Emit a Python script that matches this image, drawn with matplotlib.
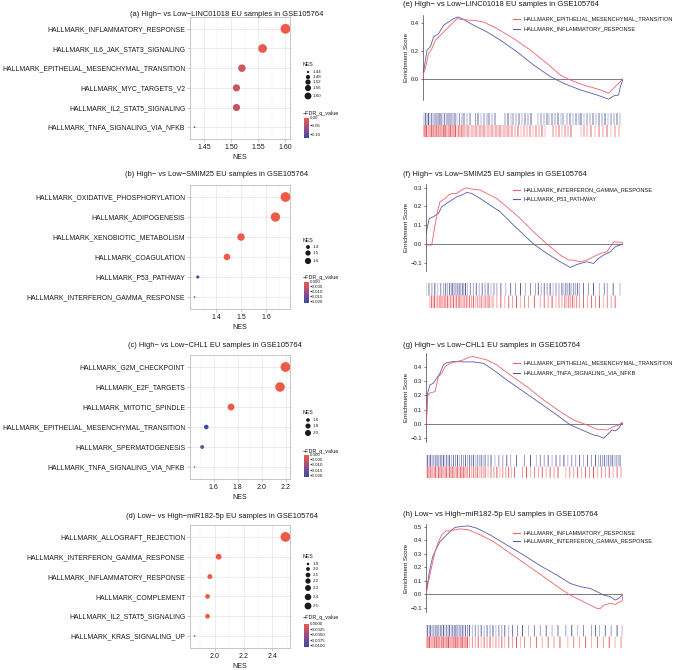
import numpy as np
import matplotlib
matplotlib.use('Agg')
import matplotlib.pyplot as plt
from matplotlib.colors import LinearSegmentedColormap
from matplotlib.ticker import AutoMinorLocator

plt.rcParams['font.family'] = ['Liberation Sans', 'DejaVu Sans']

W, H = 676, 670
fig = plt.figure(figsize=(W / 100, H / 100), dpi=100)
fig.patch.set_facecolor('white')

# %% dot plot data (a)-(d), terms from top to bottom
a_terms = ['HALLMARK_INFLAMMATORY_RESPONSE', 'HALLMARK_IL6_JAK_STAT3_SIGNALING',
           'HALLMARK_EPITHELIAL_MESENCHYMAL_TRANSITION', 'HALLMARK_MYC_TARGETS_V2',
           'HALLMARK_IL2_STAT5_SIGNALING', 'HALLMARK_TNFA_SIGNALING_VIA_NFKB']
a_nes = [1.600, 1.558, 1.520, 1.510, 1.510, 1.433]
a_fdr = [0.0, -0.003, -0.022, -0.026, -0.030, -0.120]
a_xticks = [1.45, 1.50, 1.55, 1.60]
a_xlabels = ['1.45', '1.50', '1.55', '1.60']
a_size_breaks = [1.44, 1.48, 1.52, 1.56, 1.60]
a_size_labels = ['1.44', '1.48', '1.52', '1.56', '1.60']
a_cbar_ticks = [0.0, -0.05, -0.10]
a_cbar_labels = ['0.00', '\u22120.05', '\u22120.10']

b_terms = ['HALLMARK_OXIDATIVE_PHOSPHORYLATION', 'HALLMARK_ADIPOGENESIS',
           'HALLMARK_XENOBIOTIC_METABOLISM', 'HALLMARK_COAGULATION',
           'HALLMARK_P53_PATHWAY', 'HALLMARK_INTERFERON_GAMMA_RESPONSE']
b_nes = [1.677, 1.637, 1.500, 1.444, 1.328, 1.315]
b_fdr = [0.0, 0.0, 0.0, 0.0, -0.021, -0.019]
b_xticks = [1.4, 1.5, 1.6]
b_xlabels = ['1.4', '1.5', '1.6']
b_size_breaks = [1.4, 1.5, 1.6]
b_size_labels = ['1.4', '1.5', '1.6']
b_cbar_ticks = [0.0, -0.005, -0.010, -0.015, -0.020]
b_cbar_labels = ['0.000', '\u22120.005', '\u22120.010', '\u22120.015', '\u22120.020']

c_terms = ['HALLMARK_G2M_CHECKPOINT', 'HALLMARK_E2F_TARGETS', 'HALLMARK_MITOTIC_SPINDLE',
           'HALLMARK_EPITHELIAL_MESENCHYMAL_TRANSITION', 'HALLMARK_SPERMATOGENESIS',
           'HALLMARK_TNFA_SIGNALING_VIA_NFKB']
c_nes = [2.195, 2.150, 1.745, 1.540, 1.506, 1.443]
c_fdr = [0.0, 0.0, 0.0, -0.021, -0.014, -0.008]
c_xticks = [1.6, 1.8, 2.0, 2.2]
c_xlabels = ['1.6', '1.8', '2.0', '2.2']
c_size_breaks = [1.6, 1.8, 2.0]
c_size_labels = ['1.6', '1.8', '2.0']
c_cbar_ticks = [0.0, -0.005, -0.010, -0.015, -0.020]
c_cbar_labels = ['0.000', '\u22120.005', '\u22120.010', '\u22120.015', '\u22120.020']

d_terms = ['HALLMARK_ALLOGRAFT_REJECTION', 'HALLMARK_INTERFERON_GAMMA_RESPONSE',
           'HALLMARK_INFLAMMATORY_RESPONSE', 'HALLMARK_COMPLEMENT',
           'HALLMARK_IL2_STAT5_SIGNALING', 'HALLMARK_KRAS_SIGNALING_UP']
d_nes = [2.490, 2.027, 1.966, 1.950, 1.950, 1.860]
d_fdr = [0.0, 0.0, 0.0, 0.0, 0.0, -0.0103]
d_xticks = [2.0, 2.2, 2.4]
d_xlabels = ['2.0', '2.2', '2.4']
d_size_breaks = [1.9, 2.0, 2.1, 2.2, 2.3, 2.4, 2.5]
d_size_labels = ['1.9', '2.0', '2.1', '2.2', '2.3', '2.4', '2.5']
d_cbar_ticks = [0.0, -0.0025, -0.0050, -0.0075, -0.0100]
d_cbar_labels = ['0.0000', '\u22120.0025', '\u22120.0050', '\u22120.0075', '\u22120.0100']

# %% GSEA running enrichment scores (rank in %, ES)
e_red_rank = [0, 0.3, 1.2, 2.8, 4.5, 6.2, 8.7, 11.2, 13.7, 16.2, 17.0, 19.5, 25.3, 30.3, 37.0,
              45.3, 53.7, 62.0, 68.7, 73.7, 80.3, 88.7, 92.8, 95.3, 97.8, 100]
e_red_es = [0, 0.04, 0.076, 0.183, 0.218, 0.277, 0.312, 0.348, 0.384, 0.419, 0.431, 0.424, 0.419,
            0.407, 0.36, 0.289, 0.206, 0.111, 0.028, -0.007, -0.043, -0.078, -0.102, -0.066,
            -0.031, 0]
e_blue_rank = [0, 0.3, 2.0, 3.7, 5.3, 7.8, 10.3, 12.8, 15.3, 17.3, 19.5, 25.3, 32.0, 38.7, 47.0,
               55.3, 63.7, 70.3, 78.7, 87.0, 92.8, 95.3, 97.8, 98.7, 100]
e_blue_es = [0, 0.052, 0.206, 0.23, 0.301, 0.324, 0.384, 0.407, 0.431, 0.443, 0.431, 0.384, 0.336,
             0.277, 0.194, 0.1, 0.017, -0.031, -0.078, -0.114, -0.144, -0.121, -0.114, -0.054, 0]

f_red_rank = [0, 2.9, 4.6, 5.8, 7.1, 9.7, 11.4, 13.1, 15.6, 18.1, 20.3, 23.2, 27.5, 30.8, 35.9,
              41.0, 47.8, 54.6, 61.4, 68.1, 72.4, 74.9, 78.3, 81.7, 85.1, 88.5, 91.9, 93.6, 95.3,
              99.5, 100]
f_red_es = [-0.005, -0.005, 0.101, 0.172, 0.225, 0.242, 0.26, 0.269, 0.269, 0.287, 0.299, 0.292,
            0.287, 0.269, 0.242, 0.198, 0.136, 0.065, 0, -0.058, -0.085, -0.085, -0.094, -0.085,
            -0.067, -0.05, -0.041, -0.014, 0.012, 0.009, 0]
f_blue_rank = [0, 0.7, 1.7, 3.7, 6.3, 8.0, 10.5, 13.1, 15.6, 18.1, 20.7, 23.2, 27.5, 32.5, 37.6,
               44.4, 54.6, 61.4, 68.1, 73.2, 75.8, 78.3, 81.7, 85.1, 87.6, 90.2, 93.6, 96.1, 100]
f_blue_es = [0.05, 0.092, 0.136, 0.145, 0.163, 0.198, 0.216, 0.234, 0.251, 0.26, 0.274, 0.269,
             0.242, 0.207, 0.172, 0.101, 0, -0.05, -0.094, -0.124, -0.112, -0.103, -0.094, -0.103,
             -0.076, -0.058, -0.041, -0.014, 0]

g_red_rank = [0, 0.3, 0.7, 1.7, 4.6, 6.3, 8.0, 9.7, 12.2, 15.6, 19.0, 21.5, 24.1, 27.5, 30.8,
              35.9, 42.7, 51.2, 59.7, 68.1, 74.9, 81.7, 86.8, 91.9, 95.3, 97.8, 99.5, 100]
g_red_es = [0, 0.04, 0.191, 0.214, 0.226, 0.33, 0.353, 0.4, 0.423, 0.435, 0.447, 0.465, 0.47,
            0.458, 0.447, 0.412, 0.342, 0.26, 0.167, 0.086, 0.028, -0.007, -0.037, -0.042,
            -0.019, -0.007, 0.009, 0]
g_blue_rank = [0, 0.3, 0.8, 2.0, 3.7, 5.4, 7.1, 8.8, 10.5, 13.9, 19.0, 24.1, 29.2, 34.2, 41.0,
               49.5, 58.0, 66.4, 73.2, 80.0, 85.1, 87.6, 90.2, 91.9, 94.4, 96.1, 97.8, 99.5, 100]
g_blue_es = [0, 0.04, 0.214, 0.272, 0.284, 0.319, 0.353, 0.412, 0.428, 0.435, 0.433, 0.433, 0.423,
             0.377, 0.307, 0.226, 0.144, 0.063, -0.007, -0.047, -0.077, -0.084, -0.1, -0.077,
             -0.042, -0.049, -0.03, 0.009, 0]

h_red_rank = [0, 1.2, 2.9, 4.6, 6.3, 8.0, 10.2, 12.2, 14.7, 17.3, 21.5, 27.5, 34.2, 42.7, 51.2,
              59.7, 68.1, 73.2, 78.3, 83.4, 86.8, 88.5, 90.2, 93.6, 96.1, 97.8, 99.5, 100]
h_red_es = [0, 0.094, 0.205, 0.316, 0.39, 0.44, 0.469, 0.469, 0.477, 0.484, 0.477, 0.44, 0.39,
            0.304, 0.217, 0.131, 0.044, -0.005, -0.042, -0.079, -0.104, -0.104, -0.079, -0.067,
            -0.074, -0.059, -0.049, 0]
h_blue_rank = [0, 1.7, 3.4, 5.4, 7.1, 8.8, 10.5, 13.1, 14.7, 17.3, 21.5, 25.8, 32.5, 41.0, 49.5,
               58.0, 66.4, 73.2, 78.3, 83.4, 86.8, 90.2, 93.6, 96.1, 97.8, 100]
h_blue_es = [0, 0.168, 0.279, 0.341, 0.39, 0.415, 0.44, 0.477, 0.494, 0.501, 0.506, 0.489, 0.44,
             0.365, 0.291, 0.212, 0.143, 0.081, 0.057, 0.044, 0.02, -0.005, -0.017, -0.042, -0.03,
             0]

# %% barcode hit positions (rank in %)
e_blue_hits = [0.5, 1.2, 2, 2.8, 3.5, 4.3, 5, 6, 6.8, 7.5, 8.3, 9, 10, 10.8, 11.6, 12.5, 13.3, 14,
               15, 16, 17, 18.2, 19.5, 20.5, 22, 23.5, 26.2, 27.5, 29, 30.5, 32, 33, 34.5, 36, 41,
               42.5, 44, 45, 46.5, 48, 49.5, 51, 52.5, 54, 57.5, 59, 60.5, 62, 63, 64.5, 66, 67.5,
               69, 70, 72, 73.5, 75, 76.5, 78, 79, 80.5, 82, 83.5, 85, 86.5, 88, 89.5, 91, 92.5,
               94, 95.5, 97, 98.5]
e_red_hits = [0, 0.6, 1.2, 1.8, 2.4, 3, 3.6, 4.2, 4.8, 5.4, 6, 6.6, 7.2, 7.8, 8.4, 9, 9.6, 10.2,
              10.8, 11.4, 12, 12.6, 13.2, 13.8, 14.4, 15, 15.6, 16.3, 17, 17.7, 18.4, 19.1, 19.8,
              20.5, 21.5, 22.5, 23.5, 24.5, 25.5, 26.5, 27.5, 28.5, 29.5, 30.5, 31.5, 32.5, 33.5,
              34.5, 35.5, 36.5, 37.5, 38.5, 39.5, 40.5, 41.5, 42.5, 43.5, 44.5, 46, 47.5, 49,
              50.5, 52, 53.5, 55, 56.5, 58, 59.5, 61, 65, 66.5, 68, 69.5, 71, 72.5, 74, 79, 80.5,
              82, 84, 86, 88, 90, 92, 94, 96, 98]
f_blue_hits = [0, 1.5, 3, 4.5, 6, 7.5, 9, 10, 11, 12, 12.8, 13.6, 14.4, 15.2, 16, 16.8, 17.6,
               18.4, 19.2, 20, 21, 22.5, 24, 25.5, 27, 28.5, 30, 31.5, 33, 34.5, 36, 38, 40.5, 43,
               45.5, 48, 50.5, 53, 55.5, 57, 58.5, 60, 61.5, 63, 64.5, 66, 67.5, 69, 70, 71, 72,
               73, 74, 75, 76, 77, 78, 80, 82.5, 85, 88, 90.5, 92, 95, 98.5]
f_red_hits = [2, 2.8, 3.6, 4.4, 5.2, 6, 6.8, 7.6, 8.4, 9.2, 10, 10.8, 11.6, 12.4, 13.2, 14, 14.8,
              15.6, 16.4, 17.2, 18, 18.8, 19.6, 20.4, 21.2, 22, 23, 24, 25, 26, 27, 28, 29, 30,
              31, 32, 33, 34, 36, 38, 40, 42, 44, 46, 48, 50, 52, 55, 58, 60, 62, 64, 66, 67.5,
              69, 70.5, 71.5, 72.5, 73.5, 74.5, 75.5, 76.5, 78, 80, 82, 84, 86, 88, 90, 92, 94, 96]
g_blue_hits = [0, 0.8, 1.6, 2.4, 3.2, 4, 4.8, 5.6, 6.4, 7.2, 8, 8.8, 9.6, 10.4, 11.2, 12, 13, 14,
               15, 16, 17, 18, 19, 20, 21, 22, 23, 24, 25, 26, 27, 28, 29, 30, 31.5, 33, 35, 37,
               39, 41, 43, 46, 50, 53, 56, 58, 60, 62, 64, 66, 68, 70, 72, 74, 76, 78, 80, 82, 84,
               86, 87.5, 88.5, 89.5, 90.5, 91.5, 92.5, 93.5, 94.5, 95.5, 96.5, 97.5, 98.5]
g_red_hits = [0, 0.7, 1.4, 2.1, 2.8, 3.5, 4.2, 4.9, 5.6, 6.3, 7, 7.7, 8.4, 9.1, 9.8, 10.5, 11.2,
              11.9, 12.6, 13.3, 14, 14.7, 15.4, 16.1, 16.8, 17.5, 18.2, 18.9, 19.6, 20.3, 21, 22,
              23, 24, 25, 26, 27, 28, 29, 30, 31.5, 33, 34.5, 36, 37.5, 39, 40.5, 42, 43.5, 45,
              49, 51, 53, 55, 57, 59, 61, 63, 65, 67, 71, 73, 75, 77, 79, 81, 83, 85, 87, 89, 91,
              93, 95, 97, 99]
h_blue_hits = [0, 0.8, 1.6, 2.4, 3.2, 4, 4.8, 5.6, 6.4, 7.2, 8, 8.8, 9.6, 10.4, 11.2, 12, 12.8,
               13.6, 14.4, 15.2, 16, 16.8, 17.6, 18.4, 19.2, 20, 21, 22, 23.5, 25, 26.5, 28, 29.5,
               31, 32.5, 34, 35.5, 37, 38.5, 40, 42, 44, 46.5, 49, 52, 55, 58, 61, 64, 67, 71, 74,
               77, 80, 84, 86, 88, 91, 94, 97, 99.5]
h_red_hits = [0, 0.6, 1.2, 1.8, 2.4, 3, 3.6, 4.2, 4.8, 5.4, 6, 6.6, 7.2, 7.8, 8.4, 9, 9.6, 10.2,
              10.8, 11.4, 12, 12.6, 13.2, 13.8, 14.4, 15, 15.6, 16.2, 16.8, 17.4, 18, 18.6, 19.2,
              19.8, 20.4, 21, 22, 23.5, 25, 26.5, 28, 29.5, 31, 32.5, 34, 35.5, 37, 38.5, 40, 42,
              44, 46, 48, 50, 53, 56, 59, 62, 65, 68, 72, 75, 78, 81, 84, 87, 90, 93, 96, 99]

# %% styling
RED_DOT = '#EF5A47'
BLUE_DOT = '#3B4BA3'
cmap = LinearSegmentedColormap.from_list('fdr', [BLUE_DOT, '#9A4F86', RED_DOT])
LINE_RED = '#F0606A'
LINE_BLUE = '#5A5AA8'
BAR_RED = '#E0252B'
BAR_BLUE = '#2C3285'
TXT = '#1A1A1A'
# shade pattern for barcode ticks (light / dark strokes as in the original)
SHADES = [0.45, 0.85, 0.6, 1.0, 0.4, 0.7, 0.55, 0.9]


def px_axes(x0, y0, x1, y1):
    return fig.add_axes([x0 / W, 1 - y1 / H, (x1 - x0) / W, (y1 - y0) / H])


def dot_size(v, vmin, vmax, scale=1.0):
    r = np.clip((np.asarray(v, dtype=float) - vmin) / (vmax - vmin), 0, 1)
    d_px = (1.6 + 8.2 * np.sqrt(r)) * scale
    return (d_px * 72 / 100) ** 2


# overlay for the left legends (clipped at the panel edge like the original)
lov = px_axes(0, 0, 340, H)
lov.set_xlim(0, 340)
lov.set_ylim(H, 0)
lov.axis('off')


def dot_panel(terms, nes, fdr, xticks, xlabels, title, title_x, title_y, y0, y1,
              size_breaks, size_labels, cbar_ticks, cbar_labels, nes_y, entry_ys,
              cb_title_y, cb_top, cb_bot):
    ax = px_axes(190, y0, 290, y1)
    n = len(terms)
    ypos = np.arange(n)[::-1] + 1
    vmin, vmax = min(nes), max(nes)
    fmin = min(fdr)
    ax.scatter(nes, ypos, s=dot_size(nes, vmin, vmax), c=fdr, cmap=cmap,
               vmin=fmin, vmax=0, linewidths=0, zorder=3)
    pad = 0.05 * (vmax - vmin)
    ax.set_xlim(vmin - pad, vmax + pad)
    ax.set_ylim(0.4, n + 0.6)
    ax.set_yticks(ypos)
    ax.set_yticklabels(terms, fontsize=4.95, color=TXT)
    ax.set_xticks(xticks)
    ax.set_xticklabels(xlabels, fontsize=5.0, color=TXT)
    ax.xaxis.set_minor_locator(AutoMinorLocator(2))
    ax.grid(True, which='major', color='#E3E3E3', lw=0.45)
    ax.grid(True, which='minor', axis='x', color='#F0F0F0', lw=0.3)
    ax.set_axisbelow(True)
    ax.tick_params(which='major', length=2, width=0.5, color='#B3B3B3', pad=1.5)
    ax.tick_params(which='minor', length=0)
    for sp in ax.spines.values():
        sp.set_color('#BDBDBD')
        sp.set_linewidth(0.6)
    ax.set_xlabel('NES', fontsize=5.0, color=TXT, labelpad=2)
    fig.text(title_x / W, 1 - title_y / H, title, fontsize=5.4, color=TXT,
             ha='left', va='center')

    # size legend
    lov.text(303, nes_y, 'NES', fontsize=3.8, color=TXT, va='center', ha='left')
    lov.scatter([308] * len(size_breaks), entry_ys,
                s=dot_size(size_breaks, vmin, vmax, scale=0.7),
                color='#1A1A1A', linewidths=0)
    for lab, yy in zip(size_labels, entry_ys):
        lov.text(312.5, yy, lab, fontsize=3.2, color=TXT, va='center', ha='left')
    # colour legend
    lov.text(303, cb_title_y, '\u2212FDR_q_value', fontsize=3.9, color=TXT,
             va='center', ha='left', clip_on=True)
    grad = np.linspace(0, fmin, 60).reshape(-1, 1)
    lov.imshow(grad, cmap=cmap, vmin=fmin, vmax=0, aspect='auto', origin='upper',
               extent=(304, 308.5, cb_bot, cb_top), interpolation='bilinear')
    for t, lab in zip(cbar_ticks, cbar_labels):
        yy = cb_top + (0 - t) / (0 - fmin) * (cb_bot - cb_top)
        lov.text(310, yy, lab, fontsize=3.2, color=TXT, va='center', ha='left')
    return ax


dot_panel(a_terms, a_nes, a_fdr, a_xticks, a_xlabels,
          '(a) High\u2212 vs Low\u2212LINC01018 EU samples in GSE105764', 130, 14, 17, 139,
          a_size_breaks, a_size_labels, a_cbar_ticks, a_cbar_labels, 65,
          [72, 77, 82, 88, 96], 114, 118, 138)
dot_panel(b_terms, b_nes, b_fdr, b_xticks, b_xlabels,
          '(b) High\u2212 vs Low\u2212SMIM25 EU samples in GSE105764', 125, 175, 185, 309,
          b_size_breaks, b_size_labels, b_cbar_ticks, b_cbar_labels, 240,
          [247, 253, 261], 277, 282, 303)
dot_panel(c_terms, c_nes, c_fdr, c_xticks, c_xlabels,
          '(c) High\u2212 vs Low\u2212CHL1 EU samples in GSE105764', 128, 345, 355, 479,
          c_size_breaks, c_size_labels, c_cbar_ticks, c_cbar_labels, 412,
          [420, 426, 433], 451, 455, 477)
dot_panel(d_terms, d_nes, d_fdr, d_xticks, d_xlabels,
          '(d) Low\u2212 vs High\u2212miR182-5p EU samples in GSE105764', 126, 516, 525, 648,
          d_size_breaks, d_size_labels, d_cbar_ticks, d_cbar_labels, 557,
          [564, 569, 575, 581, 588, 597, 606], 618, 624, 647)
lov.set_xlim(0, 340)
lov.set_ylim(H, 0)

# overlay for the GSEA legends
rov = px_axes(0, 0, W, H)
rov.set_xlim(0, W)
rov.set_ylim(H, 0)
rov.axis('off')


def barcode(bx, hits, y0, y1, color):
    for i, h in enumerate(hits):
        bx.vlines(h, y0, y1, color=color, lw=0.55, alpha=SHADES[i % len(SHADES)],
                  snap=False)


def gsea_panel(title, box, ylim, yticks, bar_box,
               red_rank, red_es, blue_rank, blue_es, red_hits, blue_hits,
               red_name, blue_name, leg_ys):
    x0, y0, x1, y1 = box
    ax = px_axes(x0, y0, x1, y1)
    ax.axhline(0, color='#666666', lw=0.6, zorder=1)
    ax.plot(red_rank, red_es, color=LINE_RED, lw=0.6, zorder=3)
    ax.plot(blue_rank, blue_es, color=LINE_BLUE, lw=0.6, zorder=2)
    ax.set_xlim(0, 100)
    ax.set_ylim(*ylim)
    ax.set_yticks(yticks)
    ax.set_yticklabels(['%.1f' % t if t >= 0 else '\u2212%.1f' % -t for t in yticks],
                       fontsize=4.2, color=TXT)
    ax.set_xticks([])
    for k in ['top', 'right', 'bottom']:
        ax.spines[k].set_visible(False)
    ax.spines['left'].set_color('#444444')
    ax.spines['left'].set_linewidth(0.5)
    ax.tick_params(axis='y', length=1.8, width=0.5, color='#444444', pad=1)
    ax.patch.set_alpha(0)
    fig.text(406 / W, 1 - (y0 + y1) / 2 / H, 'Enrichment Score', rotation=90,
             fontsize=4.5, color=TXT, ha='center', va='center')
    fig.text(403 / W, 1 - title[1] / H, title[0], fontsize=5.5, color=TXT,
             ha='left', va='center')

    bx = px_axes(*bar_box)
    barcode(bx, blue_hits, 1, 2, BAR_BLUE)
    barcode(bx, red_hits, 0, 1, BAR_RED)
    bx.axhline(0, color='#C8C8C8', lw=0.6)
    bx.set_xlim(0, 100)
    bx.set_ylim(0, 2)
    bx.axis('off')

    for name, col, yy in zip([red_name, blue_name], [LINE_RED, LINE_BLUE], leg_ys):
        rov.plot([513, 520], [yy, yy], color=col, lw=0.8)
        rov.text(523, yy, name, fontsize=4.1, color=TXT, va='center', ha='left')


gsea_panel(('(e) High\u2212 vs Low\u2212LINC01018 EU samples in GSE105764', 5),
           (423, 15, 623, 100), (-0.15, 0.457), [0.0, 0.2, 0.4], (423, 113, 623, 137),
           e_red_rank, e_red_es, e_blue_rank, e_blue_es, e_red_hits, e_blue_hits,
           'HALLMARK_EPITHELIAL_MESENCHYMAL_TRANSITION', 'HALLMARK_INFLAMMATORY_RESPONSE',
           [19.3, 29])
gsea_panel(('(f) High\u2212 vs Low\u2212SMIM25 EU samples in GSE105764', 175),
           (426, 184, 623, 271), (-0.143, 0.319), [-0.1, 0.0, 0.1, 0.2, 0.3],
           (426, 283, 623, 308),
           f_red_rank, f_red_es, f_blue_rank, f_blue_es, f_red_hits, f_blue_hits,
           'HALLMARK_INTERFERON_GAMMA_RESPONSE', 'HALLMARK_P53_PATHWAY', [190, 199])
gsea_panel(('(g) High\u2212 vs Low\u2212CHL1 EU samples in GSE105764', 345),
           (426, 353, 623, 442), (-0.126, 0.495), [-0.1, 0.0, 0.1, 0.2, 0.3, 0.4],
           (426, 455, 623, 478),
           g_red_rank, g_red_es, g_blue_rank, g_blue_es, g_red_hits, g_blue_hits,
           'HALLMARK_EPITHELIAL_MESENCHYMAL_TRANSITION', 'HALLMARK_TNFA_SIGNALING_VIA_NFKB',
           [363, 372.7])
gsea_panel(('(h) Low\u2212 vs High\u2212miR182-5p EU samples in GSE105764', 515),
           (426, 524, 623, 612), (-0.13, 0.52), [-0.1, 0.0, 0.1, 0.2, 0.3, 0.4, 0.5],
           (426, 625, 623, 648),
           h_red_rank, h_red_es, h_blue_rank, h_blue_es, h_red_hits, h_blue_hits,
           'HALLMARK_INFLAMMATORY_RESPONSE', 'HALLMARK_INTERFERON_GAMMA_RESPONSE',
           [533.3, 540.7])

fig.savefig('out.png', dpi=100, facecolor='white')
